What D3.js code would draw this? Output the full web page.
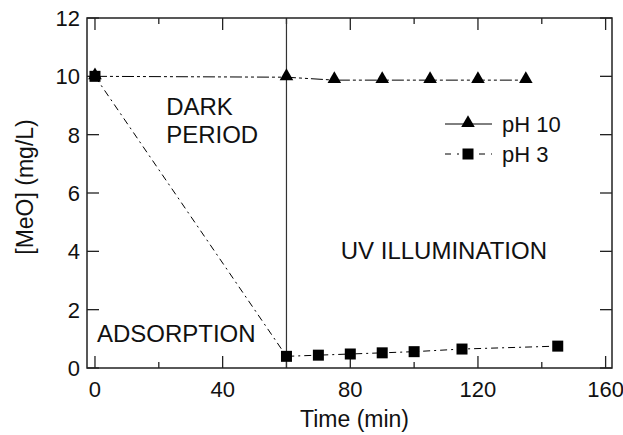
<!DOCTYPE html>
<html>
<head>
<meta charset="utf-8">
<script src="https://cdn.jsdelivr.net/npm/d3@7"></script>
<style>
  body { margin: 0; background: #fff; }
  text { font-family: "Liberation Sans", Arial, sans-serif; fill: #111; }
</style>
</head>
<body>
<div id="chart"></div>
<script>
// time (min) and [MeO] (mg/L)
const timePH10 = [0, 60, 75, 90, 105, 120, 135];
const meoPH10 = [10, 9.97, 9.87, 9.87, 9.87, 9.87, 9.87];
const timePH3 = [0, 60, 70, 80, 90, 100, 115, 145];
const meoPH3 = [10, 0.4, 0.44, 0.48, 0.52, 0.56, 0.65, 0.75];

const xTicks = [0, 40, 80, 120, 160];
const xMinor = [20, 60, 100, 140];
const yTicks = [0, 2, 4, 6, 8, 10, 12];

const width = 623, height = 435;
const margin = { top: 18, right: 11, bottom: 67, left: 87 };

const svg = d3.select("#chart").append("svg")
    .attr("width", width)
    .attr("height", height);

const x = d3.scaleLinear().domain([-2.5, 162]).range([margin.left, width - margin.right]);
const y = d3.scaleLinear().domain([0, 12]).range([height - margin.bottom, margin.top]);

const x0 = margin.left, x1 = width - margin.right;
const y0 = height - margin.bottom, y1 = margin.top;

// ticks point inward on all four sides
const g = svg.append("g").attr("stroke", "#222").attr("stroke-width", 1.3);
xTicks.forEach(t => {
    g.append("line").attr("x1", x(t)).attr("x2", x(t)).attr("y1", y0).attr("y2", y0 - 12);
    g.append("line").attr("x1", x(t)).attr("x2", x(t)).attr("y1", y1).attr("y2", y1 + 12);
});
xMinor.forEach(t => {
    g.append("line").attr("x1", x(t)).attr("x2", x(t)).attr("y1", y0).attr("y2", y0 - 6);
    g.append("line").attr("x1", x(t)).attr("x2", x(t)).attr("y1", y1).attr("y2", y1 + 6);
});
yTicks.forEach(t => {
    g.append("line").attr("x1", x0).attr("x2", x0 + 12).attr("y1", y(t)).attr("y2", y(t));
    g.append("line").attr("x1", x1).attr("x2", x1 - 12).attr("y1", y(t)).attr("y2", y(t));
});

svg.selectAll(".xlab").data(xTicks).enter().append("text")
    .attr("x", d => x(d))
    .attr("y", y0 + 29)
    .attr("text-anchor", "middle")
    .attr("font-size", 22)
    .text(d => d);

svg.selectAll(".ylab").data(yTicks).enter().append("text")
    .attr("x", x0 - 7)
    .attr("y", d => y(d) + 8)
    .attr("text-anchor", "end")
    .attr("font-size", 22)
    .text(d => d);

// dark period / UV boundary
svg.append("line")
    .attr("x1", x(60)).attr("x2", x(60))
    .attr("y1", y1).attr("y2", y0)
    .attr("stroke", "#333").attr("stroke-width", 1.2);

const line = d3.line().x(d => x(d[0])).y(d => y(d[1]));
const ph10 = d3.zip(timePH10, meoPH10);
const ph3 = d3.zip(timePH3, meoPH3);

svg.append("path").datum(ph10)
    .attr("d", line)
    .attr("fill", "none").attr("stroke", "#000").attr("stroke-width", 1)
    .attr("stroke-dasharray", "12,3,3,3,3,3");

svg.append("path").datum(ph3)
    .attr("d", line)
    .attr("fill", "none").attr("stroke", "#000").attr("stroke-width", 1)
    .attr("stroke-dasharray", "7,4,2,4");

const tri = d3.symbol().type(d3.symbolTriangle).size(80);

svg.selectAll(".tri").data(ph10).enter().append("path")
    .attr("d", tri)
    .attr("transform", d => `translate(${x(d[0])},${y(d[1]) - 1})`)
    .attr("fill", "#000");

svg.selectAll(".sq").data(ph3).enter().append("rect")
    .attr("x", d => x(d[0]) - 5.5)
    .attr("y", d => y(d[1]) - 5.5)
    .attr("width", 11).attr("height", 11)
    .attr("fill", "#000");

// frame
svg.append("rect")
    .attr("x", x0).attr("y", y1)
    .attr("width", x1 - x0).attr("height", y0 - y1)
    .attr("fill", "none").attr("stroke", "#222").attr("stroke-width", 1.5);

// legend
const leg = svg.append("g");
leg.append("line").attr("x1", 445).attr("x2", 492).attr("y1", 124).attr("y2", 124)
    .attr("stroke", "#000").attr("stroke-width", 1);
leg.append("path").attr("d", tri).attr("transform", "translate(468,123)").attr("fill", "#000");
leg.append("text").attr("x", 502).attr("y", 132).attr("font-size", 22).text("pH 10");
leg.append("line").attr("x1", 445).attr("x2", 492).attr("y1", 154).attr("y2", 154)
    .attr("stroke", "#000").attr("stroke-width", 1).attr("stroke-dasharray", "6,6,2,20");
leg.append("rect").attr("x", 462.5).attr("y", 148.5).attr("width", 11).attr("height", 11).attr("fill", "#000");
leg.append("text").attr("x", 502).attr("y", 162).attr("font-size", 22).text("pH 3");

// annotations
svg.append("text").attr("x", x(22.3)).attr("y", 115).attr("font-size", 24).text("DARK");
svg.append("text").attr("x", x(22.3)).attr("y", 143).attr("font-size", 24).text("PERIOD");
svg.append("text").attr("x", x(0.6)).attr("y", 342).attr("font-size", 24).text("ADSORPTION");
svg.append("text").attr("x", x(77)).attr("y", 259).attr("font-size", 24).text("UV ILLUMINATION");

// axis titles
svg.append("text")
    .attr("x", (x0 + x1) / 2 + 5)
    .attr("y", 427)
    .attr("text-anchor", "middle")
    .attr("font-size", 23)
    .text("Time (min)");

svg.append("text")
    .attr("transform", `translate(33,${(y0 + y1) / 2 - 6}) rotate(-90)`)
    .attr("text-anchor", "middle")
    .attr("font-size", 23)
    .text("[MeO] (mg/L)");
</script>
</body>
</html>
